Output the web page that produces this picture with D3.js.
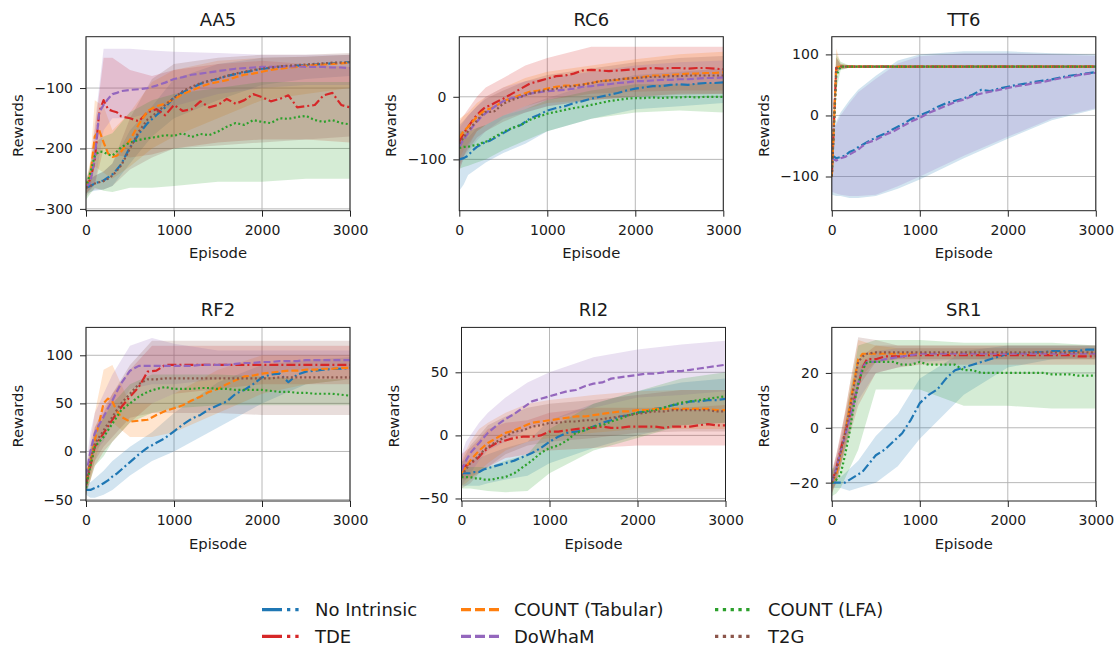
<!DOCTYPE html>
<html><head><meta charset="utf-8">
<script src="https://cdn.jsdelivr.net/npm/d3@7"></script>
<style>
body{margin:0;background:#fff}
svg{display:block}
text{font-family:"DejaVu Sans",sans-serif;fill:#1a1a1a}
</style>
</head><body>
<svg id="chart" width="1120" height="646"></svg>
<script>
// ---------------- DATA ----------------
const panelNames = ["AA5","RC6","TT6","RF2","RI2","SR1"];
const seriesNames = ["No Intrinsic","TDE","COUNT (Tabular)","DoWhaM","COUNT (LFA)","T2G"];
const episodes = [0,50,100,150,200,250,300,350,400,500,600,700,800,900,1000,1100,1200,1300,1400,1500,1600,1700,1800,1900,2000,2100,2200,2300,2400,2500,2600,2700,2800,2900,3000];
const bandEpisodes = [0,50,100,200,300,500,750,1000,1500,2000,2500,3000];
const xTicks = [0,1000,2000,3000];
const yTicksAA5 = [-300,-200,-100];
const yTicksRC6 = [-100,0];
const yTicksTT6 = [-100,0,100];
const yTicksRF2 = [-50,0,50,100];
const yTicksRI2 = [-50,0,50];
const yTicksSR1 = [-20,0,20];
const yDomainAA5 = [-303,-15];
const yDomainRC6 = [-182,96];
const yDomainTT6 = [-156,129];
const yDomainRF2 = [-51.5,129];
const yDomainRI2 = [-52,85.6];
const yDomainSR1 = [-26.7,36.6];

// AA5 means
const AA5_noIntrinsic = [-265,-262,-258,-255,-253,-248,-243,-235,-226,-198,-176,-158,-145,-132,-115,-107,-100,-93,-88,-85,-80,-77,-74,-71,-68,-67,-65,-64,-63,-62,-61,-60,-59,-58,-57];
const AA5_tde = [-265,-250,-220,-140,-120,-135,-138,-140,-147,-150,-155,-140,-135,-145,-128,-138,-135,-122,-132,-128,-118,-126,-120,-110,-115,-122,-118,-112,-132,-130,-128,-112,-108,-128,-132];
const AA5_countTab = [-265,-245,-180,-170,-190,-208,-214,-212,-205,-186,-160,-138,-130,-126,-118,-110,-104,-98,-93,-90,-87,-82,-78,-76,-73,-70,-68,-66,-65,-63,-62,-61,-60,-59,-58];
const AA5_dowham = [-265,-255,-215,-140,-128,-118,-110,-108,-105,-103,-102,-100,-96,-91,-85,-82,-78,-76,-74,-72,-70,-68,-67,-66,-65,-65,-65,-64,-64,-65,-65,-65,-66,-66,-67];
const AA5_countLfa = [-265,-240,-212,-205,-206,-210,-212,-205,-198,-190,-186,-183,-181,-178,-179,-175,-181,-176,-178,-172,-164,-158,-161,-153,-156,-158,-150,-151,-148,-146,-153,-156,-153,-158,-160];
const AA5_t2g = [-265,-262,-258,-256,-254,-250,-245,-237,-228,-200,-172,-152,-141,-128,-116,-105,-98,-92,-88,-84,-80,-76,-73,-70,-68,-66,-64,-63,-62,-61,-60,-59,-58,-58,-57];
// AA5 bands
const AA5_noIntrinsic_lo = [-275,-272,-270,-268,-262,-225,-180,-150,-120,-95,-85,-80];
const AA5_noIntrinsic_hi = [-255,-250,-245,-238,-225,-170,-130,-85,-60,-50,-48,-45];
const AA5_tde_lo = [-275,-268,-260,-200,-210,-215,-210,-200,-190,-185,-185,-190];
const AA5_tde_hi = [-255,-230,-170,-50,-50,-70,-80,-70,-60,-55,-60,-65];
const AA5_countTab_lo = [-275,-265,-230,-240,-250,-230,-200,-180,-150,-120,-110,-100];
const AA5_countTab_hi = [-255,-220,-120,-130,-170,-140,-90,-70,-55,-50,-48,-45];
const AA5_dowham_lo = [-275,-268,-260,-170,-150,-150,-140,-130,-110,-100,-95,-95];
const AA5_dowham_hi = [-255,-235,-160,-35,-35,-35,-38,-40,-42,-45,-45,-45];
const AA5_countLfa_lo = [-285,-275,-265,-270,-272,-265,-265,-262,-255,-255,-250,-250];
const AA5_countLfa_hi = [-255,-225,-190,-180,-175,-140,-120,-110,-100,-90,-90,-90];
const AA5_t2g_lo = [-280,-272,-268,-268,-262,-235,-215,-200,-195,-190,-185,-180];
const AA5_t2g_hi = [-255,-250,-245,-238,-225,-150,-85,-60,-50,-45,-45,-42];

// RC6 means
const RC6_noIntrinsic = [-100,-98,-94,-86,-80,-76,-72,-70,-66,-58,-50,-45,-35,-29,-22,-18,-15,-10,-7,-3,0,3,6,10,13,15,17,17,19,20,19,21,22,22,23];
const RC6_tde = [-72,-58,-48,-38,-29,-22,-16,-14,-10,-3,5,13,21,25,29,33,34,37,42,43,42,41,42,43,44,45,46,45,46,46,45,46,46,45,44];
const RC6_countTab = [-65,-55,-48,-40,-32,-26,-21,-19,-16,-7,-2,3,8,10,13,16,18,18,20,22,25,26,27,29,30,32,34,34,35,36,37,37,38,38,39];
const RC6_dowham = [-80,-68,-58,-48,-40,-32,-26,-21,-16,-7,-2,0,5,7,9,10,11,13,16,17,19,20,22,23,25,25,26,27,27,28,28,29,30,30,31];
const RC6_countLfa = [-82,-80,-80,-78,-77,-74,-72,-68,-64,-56,-50,-45,-37,-32,-27,-24,-21,-18,-16,-13,-10,-7,-5,-3,-2,-2,-1,-2,-1,-1,0,-1,0,0,0];
const RC6_t2g = [-75,-65,-55,-46,-38,-30,-24,-24,-23,-11,-5,0,5,8,11,13,16,17,19,22,25,26,28,29,30,31,32,32,33,33,34,34,34,34,34];
// RC6 bands
const RC6_noIntrinsic_lo = [-150,-140,-125,-115,-105,-90,-75,-55,-35,-20,-15,-10];
const RC6_noIntrinsic_hi = [-60,-65,-65,-50,-45,-30,-15,-2,20,35,40,45];
const RC6_tde_lo = [-120,-95,-80,-55,-45,-30,-15,-5,5,8,10,10];
const RC6_tde_hi = [-40,-30,-20,0,15,30,50,62,80,80,80,80];
const RC6_countTab_lo = [-100,-85,-75,-55,-45,-30,-20,-10,-5,0,5,5];
const RC6_countTab_hi = [-35,-30,-25,-10,0,15,30,40,50,60,68,72];
const RC6_dowham_lo = [-115,-100,-90,-70,-55,-35,-25,-15,-5,0,5,5];
const RC6_dowham_hi = [-50,-40,-30,-15,0,15,25,30,40,50,55,58];
const RC6_countLfa_lo = [-115,-112,-110,-105,-100,-85,-70,-55,-35,-25,-22,-25];
const RC6_countLfa_hi = [-55,-55,-55,-50,-45,-30,-20,-5,10,20,20,22];
const RC6_t2g_lo = [-110,-95,-85,-65,-55,-40,-25,-15,-5,0,3,5];
const RC6_t2g_hi = [-45,-38,-30,-15,-3,10,25,35,45,55,62,65];

// TT6 means
const TT6_noIntrinsic = [-65,-70,-68,-66,-60,-57,-52,-48,-44,-36,-30,-22,-15,-6,0,6,14,20,24,28,34,42,40,44,47,50,52,55,57,59,62,65,67,69,71];
const TT6_tde = [-100,78,80,80,80,80,80,80,80,80,80,80,80,80,80,80,80,80,80,80,80,80,80,80,80,80,80,80,80,80,80,80,80,80,80];
const TT6_countTab = [-100,79,80,80,80,80,80,80,80,80,80,80,80,80,80,80,80,80,80,80,80,80,80,80,80,80,80,80,80,80,80,80,80,80,80];
const TT6_dowham = [-70,-74,-70,-68,-64,-60,-56,-50,-45,-40,-32,-26,-18,-10,-4,4,10,16,22,26,32,36,39,42,45,48,50,53,55,58,61,63,66,68,70];
const TT6_countLfa = [-100,65,80,80,80,80,80,80,80,80,80,80,80,80,80,80,80,80,80,80,80,80,80,80,80,80,80,80,80,80,80,80,80,80,80];
const TT6_t2g = [-100,77,80,80,80,80,80,80,80,80,80,80,80,80,80,80,80,80,80,80,80,80,80,80,80,80,80,80,80,80,80,80,80,80,80];
// TT6 bands
const TT6_noIntrinsic_lo = [-130,-132,-132,-135,-135,-132,-120,-105,-70,-38,-8,10];
const TT6_noIntrinsic_hi = [-20,-10,5,25,42,65,90,100,105,105,102,100];
const TT6_tde_lo = [-100,70,76,78,78,78,78,78,78,78,78,78];
const TT6_tde_hi = [-100,95,84,82,82,82,82,82,82,82,82,82];
const TT6_countTab_lo = [-100,70,76,78,78,78,78,78,78,78,78,78];
const TT6_countTab_hi = [-100,110,85,82,82,82,82,82,82,82,82,82];
const TT6_dowham_lo = [-125,-128,-130,-132,-132,-130,-116,-100,-66,-35,-5,12];
const TT6_dowham_hi = [-25,-15,0,20,38,60,85,97,102,102,100,98];
const TT6_countLfa_lo = [-100,40,74,78,78,78,78,78,78,78,78,78];
const TT6_countLfa_hi = [-100,100,88,82,82,82,82,82,82,82,82,82];
const TT6_t2g_lo = [-100,70,76,78,78,78,78,78,78,78,78,78];
const TT6_t2g_hi = [-100,95,84,82,82,82,82,82,82,82,82,82];

// RF2 means
const RF2_noIntrinsic = [-40,-40,-38,-36,-33,-30,-26,-23,-19,-11,-3,4,9,14,21,28,34,38,44,48,52,60,64,70,77,80,81,72,80,83,84,85,86,86,87];
const RF2_tde = [-35,-15,5,12,19,26,33,40,46,57,67,83,84,90,90,90,90,90,90,90,90,90,90,90,90,90,90,90,90,90,90,90,90,90,90];
const RF2_countTab = [-30,-10,12,30,50,55,52,42,36,31,32,33,38,42,45,48,53,57,62,65,70,74,78,79,81,82,83,84,84,85,85,86,86,87,87];
const RF2_dowham = [-25,0,19,28,36,45,53,62,71,84,89,89,89,89,89,89,89,90,90,90,90,91,92,92,93,93,94,94,94,95,95,95,95,95,95];
const RF2_countLfa = [-38,-15,5,10,15,22,29,36,43,50,57,62,65,67,65,65,65,66,66,65,65,64,64,64,64,63,62,62,61,61,60,60,60,59,58];
const RF2_t2g = [-35,-10,8,15,22,29,36,43,50,60,70,75,75,76,76,76,76,76,76,76,76,76,76,76,76,76,77,77,77,77,77,77,77,77,77];
// RF2 bands
const RF2_noIntrinsic_lo = [-45,-48,-48,-45,-40,-25,-10,0,25,50,70,75];
const RF2_noIntrinsic_hi = [-35,-32,-28,-20,-10,5,20,40,72,90,95,98];
const RF2_tde_lo = [-45,-30,-15,0,10,30,50,60,65,70,70,70];
const RF2_tde_hi = [-25,0,25,45,60,85,110,110,110,110,110,110];
const RF2_countTab_lo = [-40,-30,-10,20,30,15,15,20,40,60,70,75];
const RF2_countTab_hi = [-20,10,40,85,90,50,50,60,85,100,100,100];
const RF2_dowham_lo = [-35,-20,0,10,30,65,70,70,75,80,85,85];
const RF2_dowham_hi = [-15,20,40,60,80,110,118,112,105,105,105,105];
const RF2_countLfa_lo = [-45,-30,-15,-5,10,30,40,45,48,48,48,48];
const RF2_countLfa_hi = [-30,0,20,35,50,70,80,80,80,78,75,75];
const RF2_t2g_lo = [-45,-25,-10,5,15,35,40,40,40,38,38,38];
const RF2_t2g_hi = [-25,5,25,40,60,90,115,115,115,115,115,115];

// RI2 means
const RI2_noIntrinsic = [-30,-30,-30,-29,-29,-27,-26,-25,-24,-22,-20,-17,-14,-10,-5,-1,2,3,4,7,10,12,15,16,18,19,21,22,24,25,27,27,28,28,29];
const RI2_tde = [-25,-24,-22,-20,-17,-13,-10,-8,-6,-4,-2,-1,-1,0,3,3,4,5,6,6,7,6,6,7,7,7,7,6,7,7,7,8,9,8,8];
const RI2_countTab = [-30,-25,-20,-16,-12,-9,-6,-4,-2,2,4,7,10,11,12,13,14,15,15,16,17,18,19,19,20,20,21,21,21,21,21,21,21,20,20];
const RI2_dowham = [-28,-20,-14,-10,-6,-2,2,5,8,13,17,22,27,29,31,33,35,36,39,41,42,45,46,47,48,49,49,50,51,51,52,53,54,55,56];
const RI2_countLfa = [-33,-33,-33,-34,-34,-35,-35,-35,-34,-33,-30,-25,-20,-14,-10,-8,-4,2,4,7,8,11,13,16,18,19,20,22,24,26,27,28,29,30,31];
const RI2_t2g = [-32,-27,-22,-19,-16,-12,-9,-7,-5,-1,3,4,7,8,10,10,11,11,12,12,13,14,15,16,17,18,19,19,20,20,20,20,20,19,19];
// RI2 bands
const RI2_noIntrinsic_lo = [-40,-40,-40,-40,-38,-35,-32,-22,-10,0,8,10];
const RI2_noIntrinsic_hi = [-20,-20,-20,-18,-15,-10,-5,12,25,35,42,45];
const RI2_tde_lo = [-35,-35,-33,-30,-25,-18,-15,-12,-10,-8,-8,-8];
const RI2_tde_hi = [-15,-12,-10,-3,5,10,12,18,22,22,22,24];
const RI2_countTab_lo = [-40,-38,-35,-28,-22,-12,-5,-2,2,5,5,5];
const RI2_countTab_hi = [-20,-12,-5,5,10,18,25,28,32,35,36,36];
const RI2_dowham_lo = [-40,-35,-30,-20,-12,-5,5,12,22,30,32,35];
const RI2_dowham_hi = [-15,-5,0,10,18,30,42,50,62,68,72,75];
const RI2_countLfa_lo = [-42,-42,-42,-43,-44,-45,-44,-30,-12,-2,8,10];
const RI2_countLfa_hi = [-25,-25,-25,-25,-25,-20,-15,5,25,35,45,50];
const RI2_t2g_lo = [-42,-40,-38,-30,-25,-15,-8,-5,-2,2,3,3];
const RI2_t2g_hi = [-22,-15,-8,0,8,15,22,25,28,32,36,36];

// SR1 means
const SR1_noIntrinsic = [-20,-20,-20,-20,-19,-18,-17,-16,-14,-10,-8,-5,-2,3,9,12,14,18,21,22,23,24,25,26,27,27,27,27.5,27.5,28,28,28,28,28.5,28.5];
const SR1_tde = [-20,-15,-8,-2,4,10,15,22,25,25,26,26,26,26.5,26.5,26.5,26.5,26.5,26.5,26.5,26.5,26.5,26.5,26.5,26.5,26.5,26.5,26.5,26.5,26.5,26.5,26.5,26,26,26];
const SR1_countTab = [-20,-17,-10,-3,7,16,25,27,27,27,27,27,27,27,27,27,27,27,27,27,27,27,27,27,27,27,27,27,27,27,27,27,27,27,27];
const SR1_dowham = [-20,-15,-9,-3,3,9,16,22,24,24,25,25.5,26,26.5,27,27,27,27,27,27,27,27,27,27,27,27,27,27,27,27,27,27,27,27,27];
const SR1_countLfa = [-20,-19,-17,-10,-2,8,16,21,24,24,24,24,23,23,24,23,23,23,23,21,21,20,20,20,20,20,20,20,20,19.5,19.5,19.5,19,19,19];
const SR1_t2g = [-20,-16,-9,-2,6,15,24,26,27,27.5,27.5,27.5,27.5,27.5,27.5,27.5,27.5,27.5,27.5,27.5,27.5,27.5,27.5,27.5,27.5,27.5,27.5,27.5,27.5,27.5,27.5,27.5,27.5,27.5,27.5];
// SR1 bands
const SR1_noIntrinsic_lo = [-22,-22,-22,-23,-22,-20,-14,-4,12,22,25,26];
const SR1_noIntrinsic_hi = [-18,-18,-18,-15,-12,-3,5,18,28,30,30,30];
const SR1_tde_lo = [-24,-20,-14,-3,8,20,22,23,23,23,23,23];
const SR1_tde_hi = [-16,-10,-2,12,25,30,30,30,30,30,30,30];
const SR1_countTab_lo = [-23,-20,-14,0,18,24,25,25,25,25,25,25];
const SR1_countTab_hi = [-17,-12,-5,15,32,30,29,29,29,29,29,29];
const SR1_dowham_lo = [-23,-19,-13,-1,10,20,22,24,25,25,25,25];
const SR1_dowham_hi = [-17,-11,-5,8,22,28,29,29,29,29,29,29];
const SR1_countLfa_lo = [-25,-24,-22,-15,-8,14,14,14,8,8,7,7];
const SR1_countLfa_hi = [-15,-14,-10,12,30,32,32,32,31,31,31,30];
const SR1_t2g_lo = [-24,-20,-14,-2,15,24,25,25,25,25,25,25];
const SR1_t2g_hi = [-16,-10,-3,15,33,32,30,30,30,30,30,30];

// ---------------- TABLES BUILT FROM THE ARRAYS ----------------
const meanTable = {
  AA5:[AA5_noIntrinsic,AA5_tde,AA5_countTab,AA5_dowham,AA5_countLfa,AA5_t2g],
  RC6:[RC6_noIntrinsic,RC6_tde,RC6_countTab,RC6_dowham,RC6_countLfa,RC6_t2g],
  TT6:[TT6_noIntrinsic,TT6_tde,TT6_countTab,TT6_dowham,TT6_countLfa,TT6_t2g],
  RF2:[RF2_noIntrinsic,RF2_tde,RF2_countTab,RF2_dowham,RF2_countLfa,RF2_t2g],
  RI2:[RI2_noIntrinsic,RI2_tde,RI2_countTab,RI2_dowham,RI2_countLfa,RI2_t2g],
  SR1:[SR1_noIntrinsic,SR1_tde,SR1_countTab,SR1_dowham,SR1_countLfa,SR1_t2g]
};
const bandTable = {
  AA5:[[AA5_noIntrinsic_lo,AA5_noIntrinsic_hi],[AA5_tde_lo,AA5_tde_hi],[AA5_countTab_lo,AA5_countTab_hi],[AA5_dowham_lo,AA5_dowham_hi],[AA5_countLfa_lo,AA5_countLfa_hi],[AA5_t2g_lo,AA5_t2g_hi]],
  RC6:[[RC6_noIntrinsic_lo,RC6_noIntrinsic_hi],[RC6_tde_lo,RC6_tde_hi],[RC6_countTab_lo,RC6_countTab_hi],[RC6_dowham_lo,RC6_dowham_hi],[RC6_countLfa_lo,RC6_countLfa_hi],[RC6_t2g_lo,RC6_t2g_hi]],
  TT6:[[TT6_noIntrinsic_lo,TT6_noIntrinsic_hi],[TT6_tde_lo,TT6_tde_hi],[TT6_countTab_lo,TT6_countTab_hi],[TT6_dowham_lo,TT6_dowham_hi],[TT6_countLfa_lo,TT6_countLfa_hi],[TT6_t2g_lo,TT6_t2g_hi]],
  RF2:[[RF2_noIntrinsic_lo,RF2_noIntrinsic_hi],[RF2_tde_lo,RF2_tde_hi],[RF2_countTab_lo,RF2_countTab_hi],[RF2_dowham_lo,RF2_dowham_hi],[RF2_countLfa_lo,RF2_countLfa_hi],[RF2_t2g_lo,RF2_t2g_hi]],
  RI2:[[RI2_noIntrinsic_lo,RI2_noIntrinsic_hi],[RI2_tde_lo,RI2_tde_hi],[RI2_countTab_lo,RI2_countTab_hi],[RI2_dowham_lo,RI2_dowham_hi],[RI2_countLfa_lo,RI2_countLfa_hi],[RI2_t2g_lo,RI2_t2g_hi]],
  SR1:[[SR1_noIntrinsic_lo,SR1_noIntrinsic_hi],[SR1_tde_lo,SR1_tde_hi],[SR1_countTab_lo,SR1_countTab_hi],[SR1_dowham_lo,SR1_dowham_hi],[SR1_countLfa_lo,SR1_countLfa_hi],[SR1_t2g_lo,SR1_t2g_hi]]
};
const yTickTable = {AA5:yTicksAA5,RC6:yTicksRC6,TT6:yTicksTT6,RF2:yTicksRF2,RI2:yTicksRI2,SR1:yTicksSR1};
const yDomainTable = {AA5:yDomainAA5,RC6:yDomainRC6,TT6:yDomainTT6,RF2:yDomainRF2,RI2:yDomainRI2,SR1:yDomainSR1};

// ---------------- STYLE / LAYOUT ----------------
const colors = ["#1f77b4","#d62728","#ff7f0e","#9467bd","#2ca02c","#8c564b"];
const dashes = ["9,3,2,3","9,3,2,3","7,3","7,3","2,2.5","2,2.5"];
const legendDashes = ["20,5,3.3,5,3.3,5","20,5,3.3,5,3.3,5","10,4","10,4","3.3,4.5","3.3,4.5"];
const boxes = [
  {left:86,   top:36.7,  bottom:210.7},
  {left:459.3,top:36.7,  bottom:210.7},
  {left:831.8,top:36.7,  bottom:210.7},
  {left:86,   top:327.4, bottom:501},
  {left:461.5,top:327.4, bottom:501},
  {left:831.8,top:327.4, bottom:501}
];
const plotW = 264;

const svg = d3.select("#chart");

panelNames.forEach((name, pi) => {
  const b = boxes[pi];
  const x = d3.scaleLinear().domain([0,3000]).range([b.left, b.left + plotW]);
  const y = d3.scaleLinear().domain(yDomainTable[name]).range([b.bottom, b.top]);
  const g = svg.append("g");

  const clipId = "clip" + pi;
  g.append("clipPath").attr("id", clipId).append("rect")
    .attr("x", b.left).attr("y", b.top).attr("width", plotW).attr("height", b.bottom - b.top);

  // grid
  const grid = g.append("g");
  grid.selectAll("line.gx").data(xTicks).join("line")
    .attr("x1", d => x(d)).attr("x2", d => x(d)).attr("y1", b.top).attr("y2", b.bottom)
    .attr("stroke", "#b0b0b0").attr("stroke-width", 0.9);
  grid.selectAll("line.gy").data(yTickTable[name]).join("line")
    .attr("class","gy")
    .attr("y1", d => y(d)).attr("y2", d => y(d)).attr("x1", b.left).attr("x2", b.left + plotW)
    .attr("stroke", "#b0b0b0").attr("stroke-width", 0.9);

  const plot = g.append("g").attr("clip-path", `url(#${clipId})`);

  // bands
  const area = d3.area()
    .x(d => x(d.e)).y0(d => y(d.lo)).y1(d => y(d.hi));
  bandTable[name].forEach((pair, si) => {
    const pts = bandEpisodes.map((e, j) => ({e, lo: pair[0][j], hi: pair[1][j]}));
    plot.append("path").attr("d", area(pts))
      .attr("fill", colors[si]).attr("fill-opacity", 0.2).attr("stroke", "none");
  });

  // lines
  const line = d3.line().x(d => x(d.e)).y(d => y(d.v));
  meanTable[name].forEach((vals, si) => {
    const pts = episodes.map((e, j) => ({e, v: vals[j]}));
    plot.append("path").attr("d", line(pts))
      .attr("fill", "none").attr("stroke", colors[si])
      .attr("stroke-width", 2.2).attr("stroke-dasharray", dashes[si])
      .attr("stroke-linejoin", "round");
  });

  // axes
  const xAxis = g.append("g").attr("transform", `translate(0,${b.bottom})`)
    .call(d3.axisBottom(x).tickValues(xTicks).tickSize(6).tickPadding(8).tickFormat(d3.format("d")));
  const yAxis = g.append("g").attr("transform", `translate(${b.left},0)`)
    .call(d3.axisLeft(y).tickValues(yTickTable[name]).tickSize(6).tickPadding(7).tickFormat(d3.format("d")));
  [xAxis, yAxis].forEach(ax => {
    ax.select(".domain").remove();
    ax.attr("font-family", null).attr("font-size", null);
    ax.selectAll("line").attr("stroke", "#222").attr("stroke-width", 1);
    ax.selectAll("text").attr("font-size", 14).attr("fill", "#1a1a1a");
  });

  // spines
  g.append("rect").attr("x", b.left).attr("y", b.top).attr("width", plotW).attr("height", b.bottom - b.top)
    .attr("fill", "none").attr("stroke", "#222").attr("stroke-width", 1);

  // title
  g.append("text").attr("x", b.left + plotW / 2).attr("y", b.top - 11)
    .attr("text-anchor", "middle").attr("font-size", 18).text(name);
  // x label
  g.append("text").attr("x", b.left + plotW / 2).attr("y", b.bottom + 47.5)
    .attr("text-anchor", "middle").attr("font-size", 14.8).text("Episode");
  // y label
  g.append("text")
    .attr("transform", `translate(${b.left - 63},${(b.top + b.bottom) / 2 + 2}) rotate(-90)`)
    .attr("text-anchor", "middle").attr("font-size", 14.8).text("Rewards");
});

// legend
const legendCols = [262, 461, 715];
const legendRows = [616.3, 643];
const legend = svg.append("g");
seriesNames.forEach((s, i) => {
  const col = Math.floor(i / 2), row = i % 2;
  const lx = legendCols[col], ly = legendRows[row];
  legend.append("line")
    .attr("x1", lx).attr("x2", lx + 38).attr("y1", ly - 6.6).attr("y2", ly - 6.6)
    .attr("stroke", colors[i]).attr("stroke-width", 3.3).attr("stroke-dasharray", legendDashes[i]);
  legend.append("text").attr("x", lx + 53).attr("y", ly).attr("font-size", 18).text(s);
});
</script>
</body></html>
